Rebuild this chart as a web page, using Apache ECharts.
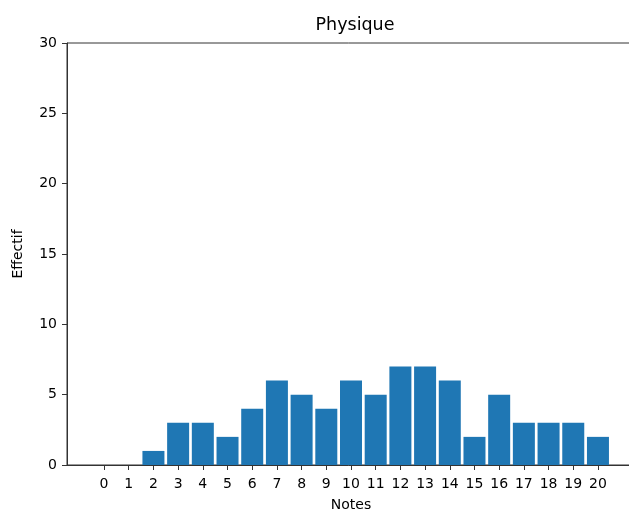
<!DOCTYPE html>
<html>
<head>
<meta charset="utf-8">
<script src="https://cdn.jsdelivr.net/npm/echarts@6/dist/echarts.min.js"></script>
<style>html,body{margin:0;padding:0;background:#fff;}#c{width:629px;height:511px;}</style>
</head>
<body>
<div id="c"></div>
<script>
const notes = [0,1,2,3,4,5,6,7,8,9,10,11,12,13,14,15,16,17,18,19,20];
const effectifs = [0,0,1,3,3,2,4,6,5,4,6,5,7,7,6,2,5,3,3,3,2];
const yTicks = [0,5,10,15,20,25,30];

const chart = echarts.init(document.getElementById('c'), null, {renderer:'canvas'});
const font = 'DejaVu Sans';
chart.setOption({
  animation: false,
  title: {
    text: 'Physique', left: 350, top: 11, textAlign: 'center',
    textStyle: {fontFamily: font, fontSize: 17.5, fontWeight: 'normal', color: '#000'}
  },
  grid: {left: 67, top: 43, width: 568, height: 422, outerBoundsMode: 'none', containLabel: false,
    show: true, borderColor: '#333', borderWidth: 1, backgroundColor: 'transparent'},
  xAxis: {
    type: 'value', min: -1.5, max: 21.5,
    name: 'Notes', nameLocation: 'middle', nameGap: 33,
    nameTextStyle: {fontFamily: font, fontSize: 14, color: '#000'},
    axisLine: {show: true, onZero: false, lineStyle: {color: '#333', width: 1}},
    axisTick: {show: true, length: 5, lineStyle: {color: '#333'}, customValues: notes},
    axisLabel: {fontFamily: font, fontSize: 14, color: '#000', margin: 12, customValues: notes},
    splitLine: {show: false}
  },
  yAxis: {
    type: 'value', min: 0, max: 30, interval: 5,
    name: 'Effectif', nameLocation: 'middle', nameGap: 42,
    nameTextStyle: {fontFamily: font, fontSize: 14, color: '#000'},
    axisLine: {show: true, onZero: false, lineStyle: {color: '#333', width: 1}},
    axisTick: {show: true, length: 5, lineStyle: {color: '#333'}, customValues: yTicks},
    axisLabel: {fontFamily: font, fontSize: 14, color: '#000', margin: 10, customValues: yTicks},
    splitLine: {show: false}
  },
  series: [{
    type: 'bar',
    data: notes.map((n, i) => [n, effectifs[i]]),
    barWidth: 22,
    itemStyle: {color: '#1f77b4', borderWidth: 0}
  }]
});
</script>
</body>
</html>
